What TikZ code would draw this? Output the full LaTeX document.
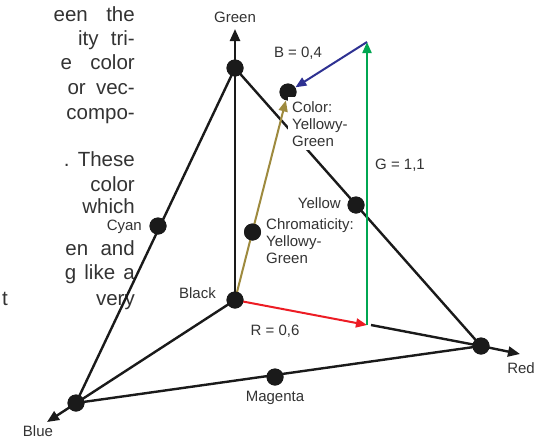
\documentclass[tikz,border=0pt]{standalone}
\usepackage{fontspec}
\setmainfont{Liberation Sans}
\usetikzlibrary{arrows.meta}
\definecolor{txt}{HTML}{333333}
\definecolor{vred}{HTML}{ED1C24}
\definecolor{vgreen}{HTML}{00A651}
\definecolor{vblue}{HTML}{2E3192}
\definecolor{volive}{HTML}{9E8A3E}
\definecolor{ink}{HTML}{1A1A1A}
\begin{document}
\begin{tikzpicture}[x=1pt,y=-1pt,
  dot/.style={circle, fill=ink, inner sep=0pt, minimum size=17pt},
  edgeline/.style={line width=2.4pt, draw=ink},
  axisline/.style={edgeline, -{Triangle[length=12pt,width=10pt]}},
  vec/.style={line width=2pt, -{Triangle[length=11pt,width=9pt]}},
  lbl/.style={font=\fontsize{15}{17}\selectfont, text=txt, inner sep=1pt},
  para/.style={font=\fontsize{20.5}{24}\selectfont, text=txt, anchor=base east, inner sep=0pt}]
\useasboundingbox (0,0) rectangle (545,439);
\fill[white] (0,0) rectangle (545,439);
% paragraph fragment
\node[para] (p1) at (135,21) {een\hspace{0.9em}the};
\node[para] (p2) at (135,45) {ity\hspace{0.6em}tri-};
\node[para] (p3) at (135,69) {e\hspace{0.9em}color};
\node[para] (p4) at (135,94) {or\hspace{0.5em}vec-};
\node[para] (p5) at (135,119) {compo-};
\node[para] (p6) at (135,166) {.\hspace{0.4em}These};
\node[para] (p7) at (135,191) {color};
\node[para] (p8) at (135,213) {which};
\node[para] (p9) at (135,255) {en\hspace{0.6em}and};
\node[para] (p10) at (135,279) {g\hspace{0.4em}like\hspace{0.4em}a};
\node[para] (p11a) at (135,305) {very};
\node[para] (p11b) at (8,305) {t};
% vertices and points
\node[dot] (K) at (235,300) {};
\node[dot] (G) at (235,68) {};
\node[dot] (R) at (481,346) {};
\node[dot] (B) at (76,403) {};
\node[dot] (C) at (158,226) {};
\node[dot] (Y) at (356,205) {};
\node[dot] (M) at (275,377) {};
\node[dot] (Co) at (288,92) {};
\node[dot] (Ch) at (252.5,232) {};
\coordinate (Gtip) at (235,29);
\coordinate (Rtip) at (520,354);
\coordinate (Btip) at (47,422);
\coordinate (P1) at (367,325);
\coordinate (P2) at (367,42);
\coordinate (Rres) at (371,325);
% edges
\draw[edgeline] (G.center) -- (B.center);
\draw[edgeline] (G.center) -- (R.center);
\draw[edgeline] (B.center) -- (R.center);
\draw[axisline] (K.center) -- (Gtip);
\draw[axisline] (K.center) -- (Btip);
\draw[edgeline] (Rres) -- (R.center);
\draw[axisline] (R.center) -- (Rtip);
% vectors
\draw[vec, volive] (K.center) -- (Co);
\draw[vec, vred] (K.center) -- (P1);
\draw[vec, vgreen] (P1) -- (P2);
\draw[vec, vblue] (P2) -- (Co);
% dots on top
\foreach \p in {(235,300),(235,68),(481,346),(76,403),(158,226),(356,205),(275,377),(288,92),(252.5,232)}
  \fill[ink] \p circle (8.5pt);
% labels
\node[lbl] (lG) at (235,17) {Green};
\node[lbl] (lR) at (521,368) {Red};
\node[lbl] (lB) at (38,431) {Blue};
\node[lbl, anchor=east] (lC) at (143,227) {Cyan};
\node[lbl, anchor=east] (lY) at (342,203) {Yellow};
\node[lbl] (lM) at (275,398) {Magenta};
\node[lbl, anchor=east] (lK) at (217,293) {Black};
\node[lbl] (lBv) at (298,53) {B = 0,4};
\node[lbl, anchor=west] (lGv) at (374,165) {G = 1,1};
\node[lbl] (lRv) at (275,331) {R = 0,6};
\node[lbl, anchor=north west, align=left, fill=white, inner sep=4pt] (lCo) at (288,97) {Color:\\Yellowy-\\Green};
\node[lbl, anchor=north west, align=left] (lCh) at (265,217) {Chromaticity:\\Yellowy-\\Green};
\end{tikzpicture}
\end{document}
